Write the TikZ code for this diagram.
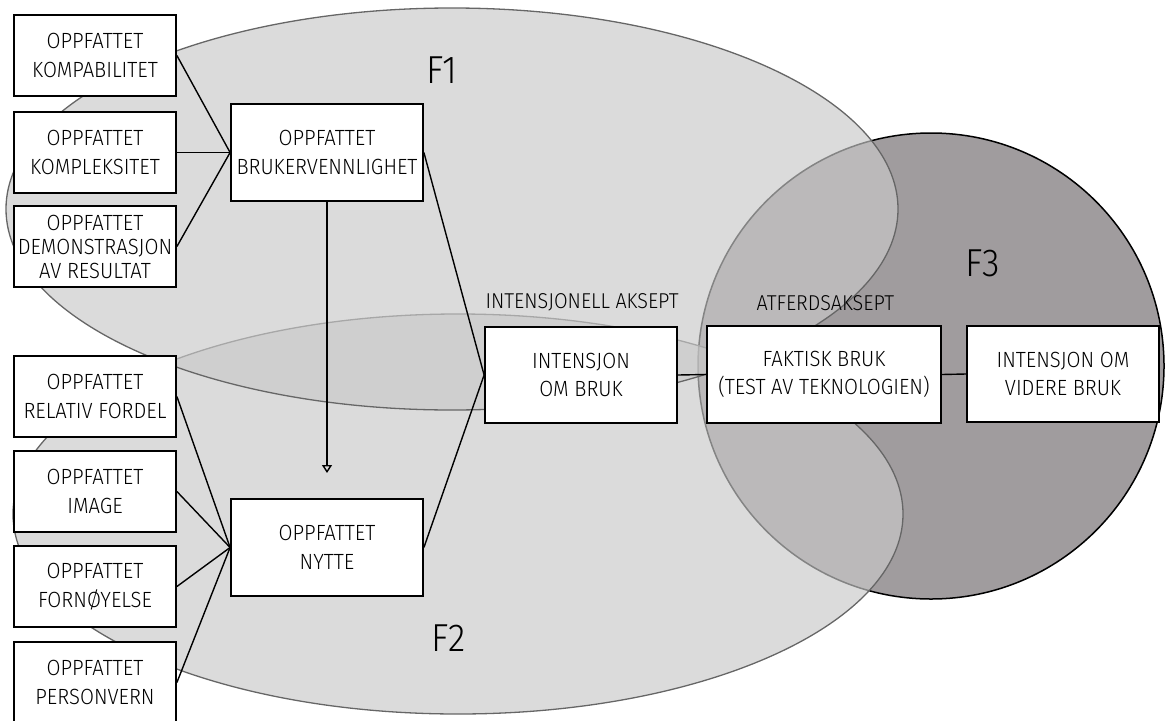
\documentclass[tikz,border=0pt]{standalone}
\usepackage{fontspec}
\setmainfont{Fira Sans}[UprightFont=* Light,FakeStretch=0.92]
\usetikzlibrary{arrows.meta}
\definecolor{flight}{gray}{0.79}
\definecolor{fdark}{RGB}{160,156,158}
\definecolor{fline}{gray}{0.40}
\tikzset{
  box/.style={draw,line width=1.8pt,fill=white,inner sep=0pt,minimum width=162pt,minimum height=81pt,align=center,font=\fontsize{22}{28.5}\selectfont},
  bigbox/.style={box,minimum width=192pt,minimum height=97pt},
  link/.style={line width=1.4pt},
  area/.style={fill=flight,fill opacity=0.66,draw=fline,line width=1.3pt},
  tag/.style={anchor=west,font=\fontsize{21.5}{24}\selectfont},
  flabel/.style={font=\fontsize{39}{40}\selectfont}
}
\begin{document}
\begin{tikzpicture}[x=1pt,y=-1pt,>={Triangle[open,length=8pt,width=10pt]}]
	\useasboundingbox (0,0) rectangle (1166,720);
	\draw[fill=fdark,line width=1.5pt] (931,366) circle[radius=233pt];
	\draw[area] (458,514) ellipse[x radius=445pt,y radius=200pt];
	\draw[area] (452,209) ellipse[x radius=446pt,y radius=201pt];
	\node[flabel] (f1) at (442,70) {F1};
	\node[flabel] (f2) at (449,638) {F2};
	\node[flabel] (f3) at (983,263) {F3};
	\node[box] (kompa) at (95,55.5) {OPPFATTET\\KOMPABILITET};
	\node[box] (komplek) at (95,152.5) {OPPFATTET\\KOMPLEKSITET};
	\node[box,font=\fontsize{22}{24}\selectfont] (demo) at (95,246.5) {OPPFATTET\\DEMONSTRASJON\\AV RESULTAT};
	\node[box] (relativ) at (95,396.5) {OPPFATTET\\RELATIV FORDEL};
	\node[box] (image) at (95,491.5) {OPPFATTET\\IMAGE};
	\node[box] (fornoy) at (95,586.5) {OPPFATTET\\FORNØYELSE};
	\node[box] (person) at (95,682.5) {OPPFATTET\\PERSONVERN};
	\node[bigbox] (bruker) at (327,152.5) {OPPFATTET\\BRUKERVENNLIGHET};
	\node[bigbox] (nytte) at (327,547.5) {OPPFATTET\\NYTTE};
	\node[bigbox,minimum height=96pt] (intens) at (581,375) {INTENSJON\\OM BRUK};
	\node[bigbox,minimum width=234pt,minimum height=97pt] (faktisk) at (824,374.5) {FAKTISK BRUK\\(TEST AV TEKNOLOGIEN)};
	\node[bigbox,minimum height=96pt] (videre) at (1063,374) {INTENSJON OM\\VIDERE BRUK};
	\node[tag] (intaksept) at (482,302) {INTENSJONELL AKSEPT};
	\node[tag] (atfaksept) at (753,303) {ATFERDSAKSEPT};
	\coordinate (tip) at (327,473);
	\foreach \n in {kompa,komplek,demo}
		\draw[link] (\n.east)--(bruker.west);
	\foreach \n in {relativ,image,fornoy,person}
		\draw[link] (\n.east)--(nytte.west);
	\draw[link,->] (bruker.south)--(tip);
	\draw[link] (bruker.east)--(intens.west);
	\draw[link] (nytte.east)--(intens.west);
	\draw[link] (intens.east)--(faktisk.west);
	\draw[link] (faktisk.east)--(videre.west);
\end{tikzpicture}
\end{document}
